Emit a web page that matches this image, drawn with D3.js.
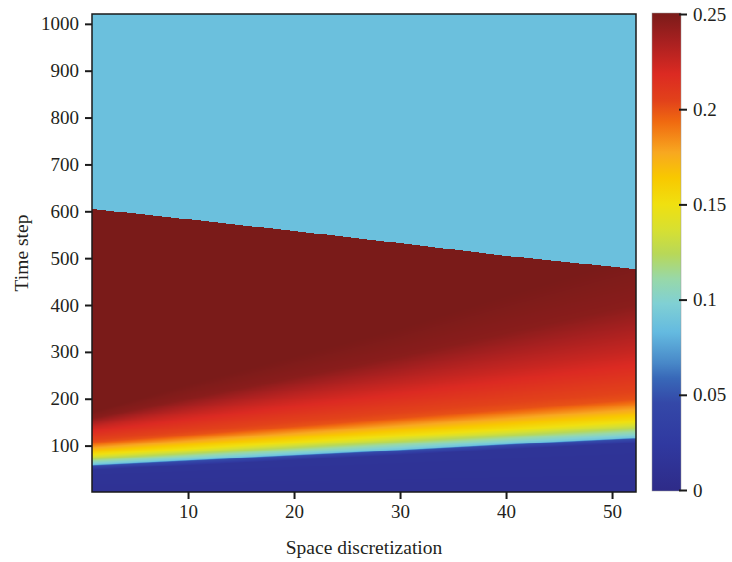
<!DOCTYPE html>
<html>
<head>
<meta charset="utf-8">
<script src="https://cdn.jsdelivr.net/npm/d3@7/dist/d3.min.js"></script>
<style>
  html, body { margin: 0; padding: 0; background: #fff; }
  svg { display: block; }
  text { font-family: "Liberation Serif", "DejaVu Serif", serif; fill: #231f20; }
</style>
</head>
<body>
<svg id="chart" width="732" height="562"></svg>
<script>
// Space extent and time grid of the simulation
const nSpace = 52;
const nTime = 1021;

// Key space points at which the concentration profile in time is given
const keyColumns = [1, 10, 20, 30, 40, 52];

// Time step at which each concentration level is reached, per key column
const levelValues = [0.012, 0.016, 0.05, 0.09, 0.15, 0.2, 0.225, 0.245, 0.25];
const levelTimes = [
  [1, 1, 1, 1, 1, 1],                 // 0.012
  [48, 58, 69, 80, 92, 105],          // 0.016
  [57, 67, 78, 89, 101, 114],         // 0.05
  [60, 70, 81, 92, 104, 117],         // 0.09
  [81, 93, 107, 121, 134, 151],       // 0.15
  [107, 123, 141, 159, 177, 198],     // 0.2
  [140, 168, 200, 230, 262, 300],     // 0.225
  [158, 200, 245, 290, 340, 400],     // 0.245
  [172, 230, 290, 350, 420, 500]      // 0.25
];

// Time step after which the front has passed, and the value left behind
const cutoffTimes = [605, 583, 558, 532, 505, 477];
const residualValue = 0.087;

// Tick labels
const xTicks = [10, 20, 30, 40, 50];
const yTicks = [100, 200, 300, 400, 500, 600, 700, 800, 900, 1000];
const cbTicks = [0, 0.05, 0.1, 0.15, 0.2, 0.25];

// Colour map stops (value -> colour)
const cmapValues = [0, 0.025, 0.046, 0.059, 0.067, 0.083, 0.098, 0.111, 0.124, 0.137, 0.15, 0.164, 0.177, 0.193, 0.204, 0.218, 0.235, 0.25];
const cmapColors = ["#2e2b88", "#3039a0", "#3448a8", "#3868b8", "#4888c8", "#64bae0", "#80d0d4", "#98d8a8", "#b8d858", "#d8e030", "#f0e010", "#f8c800", "#f8a820", "#f06a10", "#e2421a", "#dc2a22", "#a82020", "#7a1b19"];

const svg = d3.select("#chart");
const plot = { left: 92, right: 636, top: 14, bottom: 492 };

const x = d3.scaleLinear().domain([0.94, 52.26]).range([plot.left, plot.right]);
const y = d3.scaleLinear().domain([1, nTime]).range([plot.bottom, plot.top]);
const color = d3.scaleLinear().domain(cmapValues).range(cmapColors)
  .interpolate(d3.interpolateRgb).clamp(true);

// Profile of each level time and the cutoff along space
const levelAlong = levelTimes.map(row => d3.scaleLinear().domain(keyColumns).range(row));
const cutoffAlong = d3.scaleLinear().domain(keyColumns).range(cutoffTimes);

// Raster of the field, drawn through the scales
const W = plot.right - plot.left, H = plot.bottom - plot.top;
const canvas = document.createElement("canvas");
canvas.width = W; canvas.height = H;
const ctx = canvas.getContext("2d");
const img = ctx.createImageData(W, H);
for (let px = 0; px < W; px++) {
  const s = Math.min(nSpace, Math.max(1, x.invert(plot.left + px + 0.5)));
  const lt = levelAlong.map(f => f(s));
  const prof = d3.scaleLinear().domain(lt).range(levelValues).clamp(true);
  const cut = cutoffAlong(s);
  for (let py = 0; py < H; py++) {
    const t = Math.min(nTime, Math.max(1, Math.round(y.invert(plot.top + py + 0.5))));
    const v = t > cut ? residualValue : prof(t);
    const rgb = d3.rgb(color(v));
    const k = (py * W + px) * 4;
    img.data[k] = rgb.r; img.data[k + 1] = rgb.g; img.data[k + 2] = rgb.b; img.data[k + 3] = 255;
  }
}
ctx.putImageData(img, 0, 0);

svg.append("image")
  .attr("x", plot.left).attr("y", plot.top)
  .attr("width", W).attr("height", H)
  .attr("preserveAspectRatio", "none")
  .attr("href", canvas.toDataURL());

// Frame
svg.append("rect")
  .attr("x", plot.left).attr("y", plot.top)
  .attr("width", W).attr("height", H)
  .attr("fill", "none").attr("stroke", "#1a1a1a").attr("stroke-width", 1.5);

// Axes
const xAxis = svg.append("g").attr("transform", `translate(0,${plot.bottom})`)
  .call(d3.axisBottom(x).tickValues(xTicks).tickSize(7).tickPadding(6).tickFormat(d3.format("d")));
const yAxis = svg.append("g").attr("transform", `translate(${plot.left},0)`)
  .call(d3.axisLeft(y).tickValues(yTicks).tickSize(7).tickPadding(6).tickFormat(d3.format("d")));
[xAxis, yAxis].forEach(g => {
  g.select(".domain").remove();
  g.selectAll(".tick line").attr("stroke", "#1a1a1a").attr("stroke-width", 2);
  g.selectAll(".tick text").attr("font-size", 19).attr("font-family", "Liberation Serif, serif").attr("fill", "#231f20");
});

// Axis titles
svg.append("text").attr("x", (plot.left + plot.right) / 2).attr("y", 554)
  .attr("text-anchor", "middle").attr("font-size", 19.5).text("Space discretization");
svg.append("text").attr("transform", `translate(28,${(plot.top + plot.bottom) / 2}) rotate(-90)`)
  .attr("text-anchor", "middle").attr("font-size", 19.5).text("Time step");

// Colour bar
const cb = { left: 652, right: 681, top: 13, bottom: 491 };
const cy = d3.scaleLinear().domain([0, 0.25]).range([cb.bottom - 1, cb.top + 1]);
const defs = svg.append("defs");
const grad = defs.append("linearGradient").attr("id", "cbgrad")
  .attr("x1", 0).attr("y1", 1).attr("x2", 0).attr("y2", 0);
grad.selectAll("stop").data(cmapValues).join("stop")
  .attr("offset", d => d / 0.25)
  .attr("stop-color", (d, i) => cmapColors[i]);
svg.append("rect")
  .attr("x", cb.left).attr("y", cb.top)
  .attr("width", cb.right - cb.left).attr("height", cb.bottom - cb.top)
  .attr("fill", "url(#cbgrad)").attr("stroke", "#9a9a9a").attr("stroke-width", 0.5);
const cbAxis = svg.append("g").attr("transform", `translate(${cb.right + 6},0)`)
  .call(d3.axisRight(cy).tickValues(cbTicks).tickSize(0).tickPadding(6).tickFormat(d => d === 0 ? "0" : String(d)));
cbAxis.select(".domain").remove();
cbAxis.selectAll(".tick line").remove();
cbAxis.selectAll(".tick").append("line")
  .attr("x1", -8).attr("x2", 0).attr("stroke", "#1a1a1a").attr("stroke-width", 2);
cbAxis.selectAll(".tick text").attr("font-size", 19).attr("font-family", "Liberation Serif, serif").attr("fill", "#231f20");
</script>
</body>
</html>
